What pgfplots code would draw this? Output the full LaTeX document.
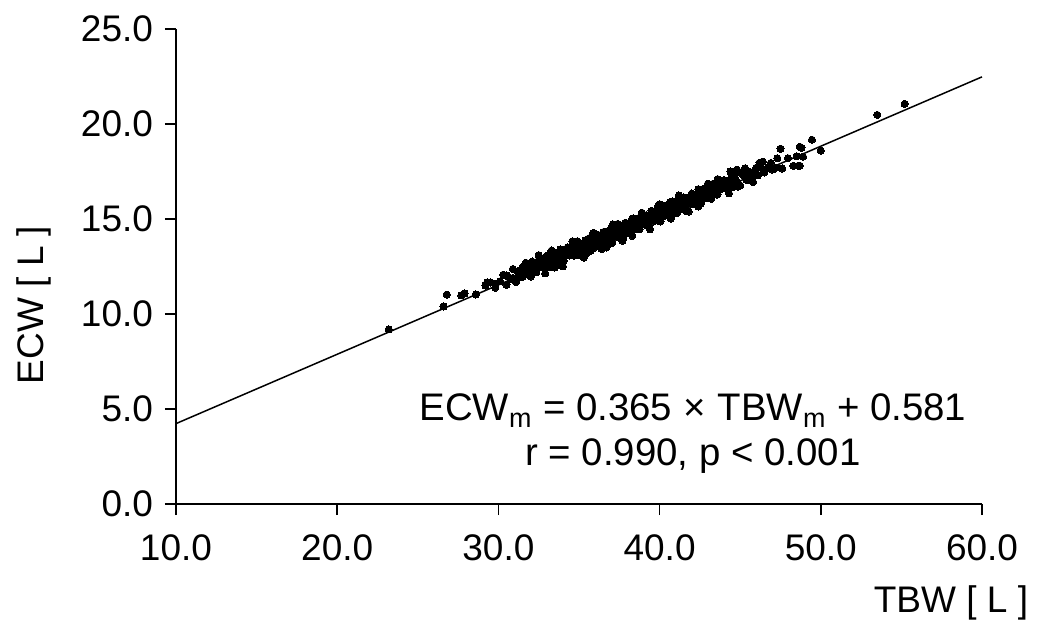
\documentclass[border=0pt]{standalone}
\usepackage{fontspec}
\setmainfont{Liberation Sans}
\usepackage{pgfplots}
\pgfplotsset{compat=1.18}
\usepackage{pgfplotstable}

\pgfplotstableread{
x y
23.2 9.19
26.6 10.40
26.8 11.02
27.7 10.98
27.9 11.08
28.6 11.03
29.2 11.50
29.3 11.66
29.5 11.66
29.8 11.38
29.8 11.60
30.1 11.72
30.3 12.07
30.5 11.54
30.5 12.03
30.6 11.97
30.8 11.86
30.9 12.37
30.9 11.90
31.1 11.68
31.2 12.24
31.3 11.92
31.4 12.16
31.5 11.96
31.5 12.45
31.6 12.50
31.7 12.70
31.8 12.17
31.9 12.41
32.0 11.97
32.0 12.20
32.1 12.76
32.2 12.40
32.3 12.61
32.35 12.19
32.4 12.75
32.5 12.45
32.5 13.10
32.55 12.56
32.6 12.89
32.6 12.80
32.7 12.46
32.75 12.85
32.8 12.47
32.9 12.74
32.9 12.14
33.0 13.06
33.05 12.47
33.1 12.88
33.2 12.74
33.2 13.18
33.25 13.23
33.3 12.49
33.3 13.34
33.4 13.04
33.45 12.91
33.5 12.69
33.5 12.45
33.6 13.23
33.65 12.84
33.7 13.06
33.7 12.66
33.8 12.63
33.85 13.40
33.9 13.03
34.0 13.23
34.0 12.51
34.05 12.81
34.1 13.37
34.2 13.07
34.25 13.18
34.3 13.51
34.4 13.08
34.45 13.47
34.5 13.09
34.6 13.36
34.6 13.83
34.65 13.66
34.7 13.08
34.8 13.50
34.85 13.34
34.9 13.83
35.0 13.11
35.1 13.66
35.15 13.27
35.2 13.55
35.25 13.71
35.3 13.35
35.3 12.97
35.35 13.55
35.4 13.88
35.45 13.19
35.5 13.52
35.55 13.95
35.6 13.76
35.65 13.73
35.7 13.32
35.75 13.59
35.8 14.11
35.85 13.87
35.9 13.76
35.9 14.27
35.95 13.49
36.0 13.96
36.05 14.19
36.1 13.56
36.15 13.87
36.2 14.13
36.25 13.71
36.3 13.84
36.35 14.15
36.4 13.97
36.4 13.42
36.45 13.62
36.5 14.31
36.55 14.08
36.6 13.88
36.65 13.99
36.7 14.29
36.7 13.50
36.75 14.35
36.8 13.93
36.85 13.85
36.9 14.20
36.95 14.18
37.0 14.52
37.05 13.74
37.1 13.95
37.1 14.72
37.15 14.39
37.2 14.38
37.25 14.17
37.3 14.24
37.35 14.41
37.4 14.74
37.45 14.11
37.5 14.02
37.55 14.55
37.6 14.58
37.65 14.39
37.7 14.46
37.7 13.86
37.75 14.03
37.8 14.26
37.85 14.79
37.9 14.80
37.95 14.57
38.0 14.43
38.05 14.43
38.1 14.67
38.15 14.71
38.2 14.23
38.25 14.32
38.3 15.02
38.3 14.11
38.35 15.03
38.4 14.67
38.45 14.71
38.5 14.87
38.55 14.55
38.6 14.47
38.65 14.99
38.7 15.05
38.75 14.46
38.8 14.75
38.85 14.92
38.9 14.88
38.9 15.33
38.95 14.83
39.0 15.23
39.05 15.19
39.1 14.79
39.15 14.69
39.2 15.20
39.25 15.02
39.3 14.85
39.35 14.58
39.4 15.11
39.4 14.46
39.45 15.23
39.5 15.43
39.55 15.01
39.6 14.87
39.65 15.25
39.7 15.29
39.75 14.95
39.8 15.15
39.85 15.39
39.9 15.66
39.95 15.23
40.0 14.93
40.0 15.78
40.05 14.87
40.1 15.49
40.15 15.63
40.2 15.37
40.25 15.40
40.3 15.17
40.35 15.27
40.4 15.71
40.45 15.55
40.5 15.34
40.55 15.16
40.6 15.58
40.65 15.87
40.7 15.15
40.7 15.02
40.75 15.55
40.8 15.93
40.85 15.39
40.9 15.58
40.95 15.83
41.0 15.79
41.05 15.30
41.1 15.38
41.15 15.76
41.2 15.96
41.2 16.24
41.25 15.67
41.3 15.67
41.35 16.03
41.4 15.79
41.45 15.53
41.5 16.14
41.55 15.86
41.6 15.71
41.65 15.42
41.7 16.11
41.75 16.07
41.8 15.76
41.8 15.39
41.85 15.85
41.9 16.03
41.95 16.09
42.0 16.34
42.05 15.79
42.1 15.78
42.15 16.25
42.2 16.20
42.3 16.06
42.35 16.12
42.4 16.57
42.4 15.66
42.5 15.84
42.55 15.80
42.6 16.40
42.7 16.29
42.75 16.60
42.8 16.08
42.9 16.62
42.95 16.41
43.0 16.26
43.0 16.86
43.1 16.49
43.15 16.31
43.2 16.06
43.3 16.85
43.35 16.62
43.4 16.49
43.5 16.70
43.55 16.28
43.6 16.30
43.6 17.10
43.7 16.87
43.75 17.02
43.8 16.58
43.9 16.71
43.95 16.73
44.0 17.05
44.1 16.62
44.15 16.62
44.2 17.02
44.3 16.67
44.3 16.35
44.4 16.94
44.4 17.50
44.45 17.13
44.5 17.25
44.6 16.69
44.7 17.12
44.8 16.97
44.8 17.60
44.85 16.70
44.9 17.48
45.0 16.76
45.1 17.40
45.2 17.30
45.3 17.67
45.4 17.05
45.5 17.50
45.6 17.30
45.7 17.20
45.8 16.95
45.9 17.55
46.0 17.70
46.1 17.30
46.2 17.96
46.3 17.70
46.4 18.02
46.5 17.45
46.7 17.70
46.9 17.95
47.0 17.60
47.2 17.70
47.3 18.20
47.5 18.70
47.6 17.66
47.96 18.20
48.3 17.80
48.5 18.30
48.6 17.80
48.7 18.80
48.7 17.80
48.8 18.75
48.9 18.28
49.45 19.17
50.0 18.60
53.5 20.48
55.2 21.06
}\scatterdata

\begin{document}
\begin{tikzpicture}
\begin{axis}[
  at={(0,0)}, anchor=south west,
  scale only axis,
  width=403bp, height=237.5bp,
  xmin=10, xmax=60, ymin=0, ymax=25,
  axis x line=bottom, axis y line=left,
  axis line style={-, black, line width=0.75bp},
  xtick={10,20,30,40,50,60},
  ytick={0,5,10,15,20,25},
  tick align=outside,
  major tick length=5.5bp,
  tick style={black, line width=0.75bp},
  minor tick num=0,
  /pgf/number format/assume math mode=true,
  /pgf/number format/.cd, fixed, fixed zerofill, precision=1, /pgfplots/.cd,
  ticklabel style={font=\fontsize{18.5bp}{22bp}\selectfont},
  xticklabel style={yshift=-6.5bp},
  yticklabel style={xshift=-2.5bp},
  label style={font=\fontsize{18.5bp}{22bp}\selectfont},
  xlabel={TBW [ L ]},
  xlabel style={at={(rel axis cs:0.9615,-0.229)}, anchor=base},
  ylabel={ECW [ L ]},
  ylabel style={at={(rel axis cs:-0.165,0.419)}, anchor=base},
  clip=false,
]
\addplot[black, line width=0.75bp] coordinates {(10,4.231) (60,22.481)};
\addplot[only marks, mark=*, mark size=1.8bp, mark options={fill=black, draw=black, line width=0pt}] table[x=x, y=y] {\scatterdata};
\node[anchor=base, font=\fontsize{19.2bp}{23bp}\selectfont] at (axis cs:42.07,4.37) {ECW\textsubscript{m} = 0.365\hspace{0.3em}×\hspace{0.3em}TBW\textsubscript{m} + 0.581};
\node[anchor=base, font=\fontsize{19.2bp}{23bp}\selectfont] at (axis cs:42.07,2.05) {r = 0.990, p < 0.001};
\end{axis}
\path[use as bounding box] (-88bp,-60.5bp) rectangle (433.5bp,252bp);
\end{tikzpicture}
\end{document}
